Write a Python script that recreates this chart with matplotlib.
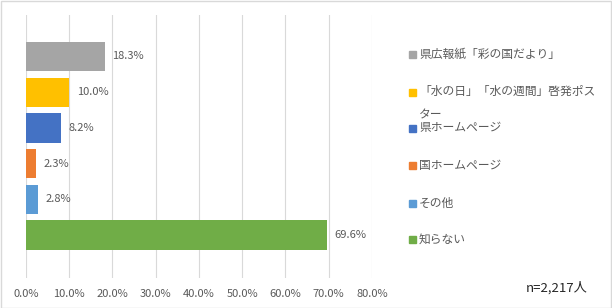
import matplotlib
matplotlib.use("Agg")
import matplotlib.pyplot as plt
from matplotlib.patches import Rectangle

plt.rcParams["font.family"] = ["Noto Sans CJK JP", "DejaVu Sans"]

categories = ["県広報紙「彩の国だより」", "「水の日」「水の週間」啓発ポスター",
              "県ホームページ", "国ホームページ", "その他", "知らない"]
legend_labels = ["県広報紙「彩の国だより」", "「水の日」「水の週間」啓発ポス\nター",
                 "県ホームページ", "国ホームページ", "その他", "知らない"]
values = [18.3, 10.0, 8.2, 2.3, 2.8, 69.6]
colors = ["#A5A5A5", "#FFC000", "#4472C4", "#ED7D31", "#5B9BD5", "#70AD47"]
xticks = [0, 10, 20, 30, 40, 50, 60, 70, 80]
note = "n=2,217人"

TEXT = "#595959"
W, H = 612, 308

fig = plt.figure(figsize=(W / 100, H / 100), dpi=100)
ax = fig.add_axes([26 / W, 1 - 278 / H, (372 - 26) / W, (278 - 15) / H])

ypos = list(range(len(values)))
ax.barh(ypos, values, height=0.82, color=colors, zorder=3)
for y, v in zip(ypos, values):
    ax.text(v + 1.7, y, f"{v:.1f}%", va="center", ha="left", fontsize=8, color=TEXT)

ax.set_xlim(0, 80)
ax.set_ylim(6.2, -1.16)
ax.set_xticks(xticks)
ax.set_xticklabels([f"{t:.1f}%" for t in xticks], fontsize=8, color=TEXT)
ax.tick_params(axis="x", length=0, pad=8)
ax.set_yticks([])
ax.grid(axis="x", color="#D9D9D9", linewidth=0.8, zorder=0)
for s in ax.spines.values():
    s.set_visible(False)

# legend, drawn by hand so the wrapped entry sits like the original
leg_y = [54, 92, 128, 165, 203, 239]
for lab, c, yy in zip(legend_labels, colors, leg_y):
    fig.patches.append(Rectangle((409 / W, 1 - (yy + 3.5) / H), 7 / W, 7 / H,
                                 transform=fig.transFigure, color=c))
    if "\n" in lab:
        fig.text(419 / W, 1 - (yy - 7) / H, lab, va="top", ha="left",
                 fontsize=8.5, color=TEXT, linespacing=2.0)
    else:
        fig.text(419 / W, 1 - yy / H, lab, va="center", ha="left",
                 fontsize=8.5, color=TEXT)

fig.text(526 / W, 1 - 288 / H, note, va="center", ha="left", fontsize=9.5, color="#262626")

# outer frame
fig.patches.append(Rectangle((0.5 / W, 0.5 / H), 1 - 1.5 / W, 1 - 1.5 / H,
                             transform=fig.transFigure, fill=False,
                             edgecolor="#D9D9D9", linewidth=1))

fig.savefig("out.png", dpi=100)
